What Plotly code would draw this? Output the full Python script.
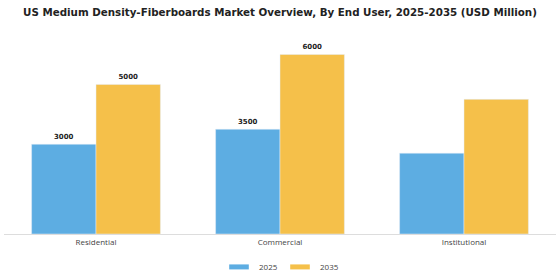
import plotly.graph_objects as go

categories = ["Residential", "Commercial", "Institutional"]
values_2025 = [3000, 3500, 2700]
values_2035 = [5000, 6000, 4500]
labels_2025 = ["3000", "3500", ""]
labels_2035 = ["5000", "6000", ""]
series_names = ["2025", "2035"]
series_colors = ["#5DADE2", "#F5C04A"]

fig = go.Figure()
for name, vals, labs, col in zip(series_names, [values_2025, values_2035],
                                 [labels_2025, labels_2035], series_colors):
    fig.add_trace(go.Bar(x=categories, y=vals, name=name, marker_color=col,
                         text=labs, textposition="outside", cliponaxis=False,
                         showlegend=False,
                         textfont=dict(family="DejaVu Sans", size=7, color="#222222", weight="bold")))
# legend entries with flat swatches
for name, col in zip(series_names, series_colors):
    fig.add_trace(go.Scatter(x=[None], y=[None], name=name, mode="markers",
                             marker=dict(symbol="line-ew", size=14, color=col,
                                         line=dict(color=col, width=5))))

L, R, T, B = 4, 4, 40, 45.5
W = 560 - L - R
H = 280 - T - B

fig.update_layout(
    width=560, height=280,
    margin=dict(l=L, r=R, t=T, b=B, autoexpand=False),
    paper_bgcolor="white", plot_bgcolor="white",
    barmode="group", bargap=0.30, bargroupgap=0,
    title=dict(text="<b>US Medium Density-Fiberboards Market Overview, By End User, 2025-2035 (USD Million)</b>",
               x=0.5, xanchor="center", xref="paper", y=1 - 12 / 280, yanchor="middle",
               font=dict(family="DejaVu Sans", size=10.3, color="#222222")),
    xaxis=dict(range=[-0.5, 2.5], showline=True, linecolor="#dddddd", linewidth=1,
               ticks="", tickfont=dict(family="Open Sans", size=8, color="#444444"),
               showgrid=False),
    yaxis=dict(range=[0, 6483 * (H / 194.5)], visible=False, showgrid=False),
    legend=dict(orientation="h", x=0.5, xanchor="center", y=-(267.5 - (280 - B)) / H, yanchor="middle",
                font=dict(family="Open Sans", size=8, color="#444444"),
                itemwidth=30, entrywidth=16),
    showlegend=True,
)

fig.write_html("out.html")
